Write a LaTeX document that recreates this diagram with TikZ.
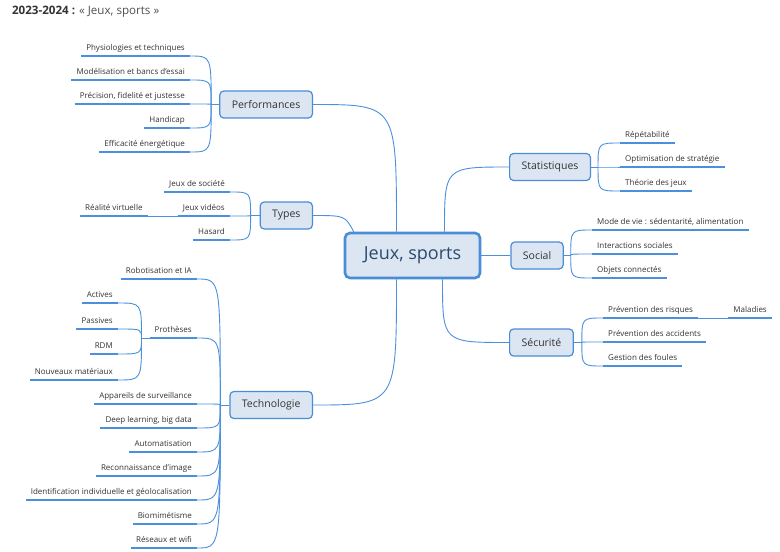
\documentclass[tikz,border=0pt]{standalone}
\usepackage{fontspec}
\setmainfont{Open Sans}
\usetikzlibrary{positioning, calc}
\definecolor{lineBlue}{HTML}{4A90DC}
\definecolor{boxFill}{HTML}{DCE6F2}
\definecolor{boxStroke}{HTML}{4A8CD6}
\definecolor{textGray}{HTML}{333333}
\definecolor{titleGray}{HTML}{505050}
\definecolor{mainText}{HTML}{2B4A6F}

\begin{document}
\begin{tikzpicture}[
    x=1pt, y=-1pt,
    font=\fontsize{8}{9}\selectfont,
    text=textGray,
    % Node Styles
    root/.style={
        rectangle,
        rounded corners=5pt,
        draw=boxStroke,
        fill=boxFill,
        line width=2.6pt,
        minimum width=135pt,
        minimum height=45pt,
        text=mainText,
        font=\fontsize{18}{20}\selectfont
    },
    branch/.style={
        rectangle,
        rounded corners=4pt,
        draw=boxStroke,
        fill=boxFill,
        line width=1.2pt,
        inner xsep=12pt,
        minimum height=27pt,
        font=\fontsize{10.5}{12}\selectfont
    },
    leaf/.style={
        inner xsep=5pt,
        inner ysep=3pt,
        text height=6pt,
        text depth=2pt,
        append after command={
            \pgfextra{\let\leafnode\tikzlastnode}
            (\leafnode.south west) edge[underline] (\leafnode.south east)
        }
    },
    leafL/.style={leaf, anchor=south east},
    leafR/.style={leaf, anchor=south west},
    % Line Styles
    underline/.style={draw=lineBlue, line width=2.4pt},
    link/.style={draw=lineBlue, line width=0.9pt}
]

    \fill[white] (0,0) rectangle (780,552);
    \useasboundingbox (0,0) rectangle (780,552);

    % --- Title ---
    \node[anchor=west, font=\fontsize{11.6}{13}\selectfont] (title) at (8.5,12)
        {\textbf{2023-2024 :} {\color{titleGray}« Jeux, sports »}};

    % --- Centre and branches ---
    \node[root] (main) at (412.5,255.5) {Jeux, sports};

    \node[branch, anchor=east] (perf) at (313,104.5) {Performances};
    \node[branch, anchor=east] (types) at (313,215.5) {Types};
    \node[branch, anchor=east] (tech) at (313,405) {Technologie};
    \node[branch, anchor=west] (stat) at (509,167) {Statistiques};
    \node[branch, right=29pt of main] (social) {Social};
    \node[branch, anchor=west] (secu) at (509,342.5) {Sécurité};

    % fan points
    \coordinate (perf-fan) at ([xshift=-8pt]perf.west);
    \coordinate (types-fan) at ([xshift=-9pt]types.west);
    \coordinate (tech-fan) at ([xshift=-9pt]tech.west);
    \coordinate (stat-fan) at ([xshift=7pt]stat.east);
    \coordinate (social-fan) at ([xshift=7pt]social.east);
    \coordinate (secu-fan) at ([xshift=8pt]secu.east);

    % entry points on the centre box
    \coordinate (main-n1) at ([xshift=-16pt]main.north);
    \coordinate (main-n2) at ([xshift=32pt]main.north);
    \coordinate (main-s1) at ([xshift=-16pt]main.south);
    \coordinate (main-s2) at ([xshift=30pt]main.south);
    \coordinate (main-nw) at ([xshift=10pt]main.north west);

    % --- Performances ---
    \node[leafL] (physio) at (190,56) {Physiologies et techniques};
    \node[leafL] (model) at (190,80) {Modélisation et bancs d'essai};
    \node[leafL] (precis) at (190,104) {Précision, fidelité et justesse};
    \node[leafL] (handi) at (190,128) {Handicap};
    \node[leafL] (effic) at (190,152) {Efficacité énergétique};

    % --- Types ---
    \node[leafL] (societe) at (230,192) {Jeux de société};
    \node[leafL] (videos) at (230,216) {Jeux vidéos};
    \node[leafL] (hasard) at (230,240) {Hasard};
    \node[leaf, left=30pt of videos] (realite) {Réalité virtuelle};

    % --- Technologie ---
    \node[leafL] (robot) at (197,279) {Robotisation et IA};
    \node[leafL] (prot) at (197,338) {Prothèses};
    \node[leafL] (app) at (197,404) {Appareils de surveillance};
    \node[leafL] (deep) at (197,428) {Deep learning, big data};
    \node[leafL] (auto) at (197,452) {Automatisation};
    \node[leafL] (recon) at (197,476) {Reconnaissance d'image};
    \node[leafL] (ident) at (197,500) {Identification individuelle et géolocalisation};
    \node[leafL] (biomim) at (197,524) {Biomimétisme};
    \node[leafL] (reseau) at (197,548) {Réseaux et wifi};

    \coordinate (prot-fan) at ([xshift=-8pt]prot.south west);
    \node[leafL] (actives) at (118,303) {Actives};
    \node[leafL] (passives) at (118,329) {Passives};
    \node[leafL] (rdm) at (118,354) {RDM};
    \node[leafL] (nouveaux) at (118,380) {Nouveaux matériaux};

    % --- Statistiques ---
    \node[leafR] (repet) at (620,143) {Répétabilité};
    \node[leafR] (optim) at (620,167) {Optimisation de stratégie};
    \node[leafR] (theorie) at (620,191) {Théorie des jeux};

    % --- Social ---
    \node[leafR] (mode) at (592,230) {Mode de vie : sédentarité, alimentation};
    \node[leafR] (inter) at (592,254) {Interactions sociales};
    \node[leafR] (objets) at (592,278) {Objets connectés};

    % --- Sécurité ---
    \node[leafR] (risques) at (603,318) {Prévention des risques};
    \node[leafR] (accid) at (603,342) {Prévention des accidents};
    \node[leafR] (foules) at (603,366) {Gestion des foules};
    \node[leaf, right=30pt of risques] (maladies) {Maladies};

    % --- Edges ---

    % centre to branches
    \draw[link] (perf.east) .. controls (perf.east -| main-n1) .. (main-n1);
    \draw[link] (types.east) .. controls ([xshift=32pt]types.east) .. (main-nw);
    \draw[link] (tech.east) .. controls (tech.east -| main-s1) .. (main-s1);
    \draw[link] (main-n2) .. controls (main-n2 |- stat.west) .. (stat.west);
    \draw[link] (main.east) -- (social.west);
    \draw[link] (main-s2) .. controls (main-s2 |- secu.west) .. (secu.west);

    % branches to fan points
    \draw[link] (perf.west) -- (perf-fan);
    \draw[link] (types.west) -- (types-fan);
    \draw[link] (tech.west) -- (tech-fan);
    \draw[link] (stat.east) -- (stat-fan);
    \draw[link] (social.east) -- (social-fan);
    \draw[link] (secu.east) -- (secu-fan);
    \draw[link] (prot.south west) -- (prot-fan);

    % left leaves
    \foreach \leafname in {physio, model, precis, handi, effic}
        \draw[link] (\leafname.south east) .. controls (\leafname.south east -| perf-fan) .. (perf-fan);
    \foreach \leafname in {societe, videos, hasard}
        \draw[link] (\leafname.south east) .. controls (\leafname.south east -| types-fan) .. (types-fan);
    \foreach \leafname in {robot, prot, app, deep, auto, recon, ident, biomim, reseau}
        \draw[link] (\leafname.south east) .. controls (\leafname.south east -| tech-fan) .. (tech-fan);
    \foreach \leafname in {actives, passives, rdm, nouveaux}
        \draw[link] (\leafname.south east) .. controls (\leafname.south east -| prot-fan) .. (prot-fan);

    % right leaves
    \foreach \leafname in {repet, optim, theorie}
        \draw[link] (stat-fan) .. controls (stat-fan |- \leafname.south west) .. (\leafname.south west);
    \foreach \leafname in {mode, inter, objets}
        \draw[link] (social-fan) .. controls (social-fan |- \leafname.south west) .. (\leafname.south west);
    \foreach \leafname in {risques, accid, foules}
        \draw[link] (secu-fan) .. controls (secu-fan |- \leafname.south west) .. (\leafname.south west);

    % second level
    \draw[link] (videos.south west) -- (realite.south east);
    \draw[link] (risques.south east) -- (maladies.south west);

\end{tikzpicture}
\end{document}
